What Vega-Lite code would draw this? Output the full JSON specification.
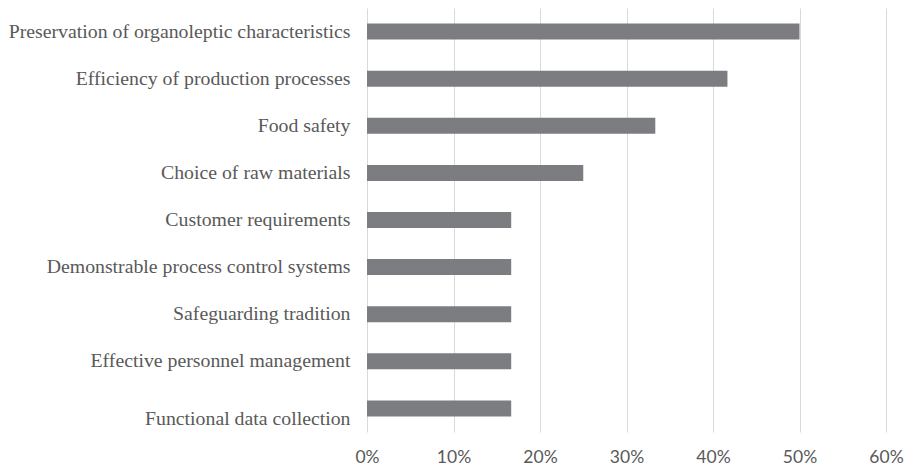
{
  "$schema": "https://vega.github.io/schema/vega-lite/v6.json",
  "width": 519,
  "height": 424,
  "autosize": {"type": "none"},
  "padding": {"left": 367, "top": 8, "right": 23, "bottom": 34},
  "background": "white",
  "config": {"view": {"stroke": null}},
  "data": {
    "values": [
      {"factor": "Preservation of organoleptic characteristics", "share": 0.5},
      {"factor": "Efficiency of production processes", "share": 0.4167},
      {"factor": "Food safety", "share": 0.3333},
      {"factor": "Choice of raw materials", "share": 0.25},
      {"factor": "Customer requirements", "share": 0.1667},
      {"factor": "Demonstrable process control systems", "share": 0.1667},
      {"factor": "Safeguarding tradition", "share": 0.1667},
      {"factor": "Effective personnel management", "share": 0.1667},
      {"factor": "Functional data collection", "share": 0.1667}
    ]
  },
  "mark": {"type": "bar", "color": "#7c7d80"},
  "encoding": {
    "y": {
      "field": "factor",
      "type": "nominal",
      "sort": null,
      "scale": {"paddingInner": 0.66, "paddingOuter": 0.33},
      "axis": {
        "title": null,
        "domain": false,
        "ticks": false,
        "grid": false,
        "labelFont": "Liberation Serif",
        "labelFontSize": 19.8,
        "labelColor": "#595959",
        "labelPadding": 17,
        "labelLimit": 400,
        "labelOffset": {"condition": {"test": "datum.value == 'Functional data collection'", "value": 11}, "value": 0}
      }
    },
    "x": {
      "field": "share",
      "type": "quantitative",
      "scale": {"domain": [0, 0.6], "nice": false},
      "axis": {
        "title": null,
        "format": ".0%",
        "values": [0, 0.1, 0.2, 0.3, 0.4, 0.5, 0.6],
        "domain": false,
        "ticks": false,
        "grid": true,
        "gridColor": "#d9d9d9",
        "gridWidth": 1,
        "labelFlush": false,
        "labelFont": "Lato",
        "labelFontSize": 17.5,
        "labelColor": "#595959",
        "labelPadding": 16
      }
    }
  }
}
